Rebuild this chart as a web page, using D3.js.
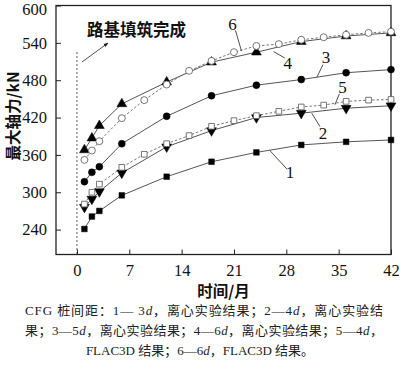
<!DOCTYPE html>
<html>
<head>
<meta charset="utf-8">
<script src="https://cdn.jsdelivr.net/npm/d3@7"></script>
<style>
  body { margin: 0; background: #fff; }
  svg { display: block; }
</style>
</head>
<body>
<svg id="chart" width="400" height="370"></svg>
<script>
// months at which the centrifuge tests were read
const testMonths = [1, 2, 3, 6, 12, 18, 24, 30, 36, 42];
// months at which the FLAC3D results were read
const simMonths = [1, 2, 3, 6, 9, 12, 15, 18, 21, 24, 27, 30, 33, 36, 39, 42];

// max axial force, kN
const s1 = [241, 261, 270, 295, 325, 349, 364, 376, 381, 384];
const s2 = [276, 289, 301, 331, 373, 399, 420, 427, 435, 439];
const s3 = [317, 332, 341, 378, 422, 455, 472, 481, 492, 497];
const s4 = [368, 387, 407, 442, 477, 509, 525, 542, 551, 556];
const s5 = [281, 300, 313, 340, 361, 378, 391, 406, 415, 423, 430, 437, 440, 446, 448, 449];
const s6 = [352, 367, 382, 419, 448, 473, 495, 511, 525, 535, 538, 545, 549, 553, 556, 558];

const xTicks = [0, 7, 14, 21, 28, 35, 42];
const yTicks = [240, 300, 360, 420, 480, 540, 600];

const series = [
  {id: 1, months: testMonths, values: s1, symbol: 'square', open: false},
  {id: 2, months: testMonths, values: s2, symbol: 'down', open: false},
  {id: 3, months: testMonths, values: s3, symbol: 'circle', open: false},
  {id: 4, months: testMonths, values: s4, symbol: 'up', open: false},
  {id: 5, months: simMonths, values: s5, symbol: 'square', open: true},
  {id: 6, months: simMonths, values: s6, symbol: 'circle', open: true}
];

const svg = d3.select('#chart');
const latin = '"Liberation Serif", "Times New Roman", serif';
const cjk = '"Noto Sans CJK SC", sans-serif';

const plot = {left: 56, right: 391, top: 5.5, bottom: 254.5};

const x = d3.scaleLinear().domain([-2.8, 42]).range([plot.left, plot.right]);
const y = d3.scaleLinear().domain([200, 600]).range([plot.bottom, plot.top]);

// axes with inward ticks
const xAxis = svg
  .append('g')
  .attr('transform', 'translate(0,' + plot.bottom + ')')
  .call(d3.axisBottom(x).tickValues(xTicks).tickSize(-5).tickPadding(10).tickSizeOuter(0));
const yAxis = svg
  .append('g')
  .attr('transform', 'translate(' + plot.left + ',0)')
  .call(d3.axisLeft(y).tickValues(yTicks).tickSize(-5).tickPadding(9).tickSizeOuter(0));

[xAxis, yAxis].forEach(ax => {
  ax.select('.domain').remove();
  ax.selectAll('line').attr('stroke', '#222').attr('stroke-width', 1);
  ax.selectAll('text')
    .attr('fill', '#111')
    .style('font-family', latin)
    .style('font-size', '16.5px');
});
// keep the top label inside the page
yAxis.selectAll('.tick text').filter(d => d === 600).attr('dy', '0.55em');

// frame
svg
  .append('rect')
  .attr('x', plot.left)
  .attr('y', plot.top)
  .attr('width', plot.right - plot.left)
  .attr('height', plot.bottom - plot.top)
  .attr('fill', 'none')
  .attr('stroke', '#222')
  .attr('stroke-width', 1.3);

// embankment completed marker
svg
  .append('line')
  .attr('x1', x(0))
  .attr('x2', x(0))
  .attr('y1', 52)
  .attr('y2', plot.bottom)
  .attr('stroke', '#333')
  .attr('stroke-width', 0.8)
  .attr('stroke-dasharray', '2,2');

svg
  .append('defs')
  .append('marker')
  .attr('id', 'arrow')
  .attr('viewBox', '0 0 10 10')
  .attr('refX', 9)
  .attr('refY', 5)
  .attr('markerWidth', 6)
  .attr('markerHeight', 6)
  .attr('orient', 'auto')
  .append('path')
  .attr('d', 'M0,1 L10,5 L0,9 Z')
  .attr('fill', '#222');

svg
  .append('line')
  .attr('x1', 82)
  .attr('y1', 62)
  .attr('x2', 108)
  .attr('y2', 43)
  .attr('stroke', '#222')
  .attr('stroke-width', 0.8)
  .attr('marker-end', 'url(#arrow)');

svg
  .append('text')
  .text('路基填筑完成')
  .attr('x', 87)
  .attr('y', 36)
  .style('font-family', cjk)
  .style('font-size', '16.5px')
  .style('font-weight', 700)
  .attr('fill', '#111');

// lines
const line = d3
  .line()
  .x(d => x(d[0]))
  .y(d => y(d[1]));

series.forEach(s => {
  const pts = s.months.map((m, i) => [m, s.values[i]]);
  svg
    .append('path')
    .datum(pts)
    .attr('d', line)
    .attr('fill', 'none')
    .attr('stroke', s.open ? '#777' : '#555')
    .attr('stroke-width', 1)
    .attr('stroke-dasharray', s.open ? '2.5,2' : null);
});

// markers
const symbolTypes = {
  square: d3.symbolSquare,
  circle: d3.symbolCircle,
  up: d3.symbolTriangle,
  down: d3.symbolTriangle
};
const symbolSizes = {square: 32, circle: 38, up: 42, down: 42};

series.forEach(s => {
  const pts = s.months.map((m, i) => [m, s.values[i]]);
  svg
    .append('g')
    .attr('class', 'marks_' + s.id)
    .selectAll('path')
    .data(pts)
    .enter()
    .append('path')
    .attr('d', d3.symbol().type(symbolTypes[s.symbol]).size(symbolSizes[s.symbol]))
    .attr('transform', d => 'translate(' + x(d[0]) + ',' + y(d[1]) + ')' + (s.symbol === 'down' ? ' rotate(180)' : ''))
    .attr('fill', s.open ? '#fff' : '#000')
    .attr('stroke', s.open ? '#666' : '#000')
    .attr('stroke-width', s.open ? 0.9 : 0.5);
});

// series labels with leader lines (data coordinates)
const labels = [
  {t: '6', tx: 20.8, ty: 569, a: [21.2, 560], b: [22.0, 527]},
  {t: '4', tx: 28.2, ty: 507, a: [26.3, 526], b: [27.8, 515.6]},
  {t: '3', tx: 33.3, ty: 516, a: [32.9, 505], b: [32.1, 485]},
  {t: '5', tx: 35.5, ty: 469, a: [35.1, 458], b: [34.5, 440.5]},
  {t: '2', tx: 32.9, ty: 395, a: [32.5, 405.6], b: [31.4, 427]},
  {t: '1', tx: 28.5, ty: 332, a: [28.1, 337], b: [25.8, 367]}
];

labels.forEach(l => {
  svg
    .append('line')
    .attr('x1', x(l.a[0]))
    .attr('y1', y(l.a[1]))
    .attr('x2', x(l.b[0]))
    .attr('y2', y(l.b[1]))
    .attr('stroke', '#222')
    .attr('stroke-width', 0.8);
  svg
    .append('text')
    .text(l.t)
    .attr('x', x(l.tx))
    .attr('y', y(l.ty))
    .attr('text-anchor', 'middle')
    .attr('dominant-baseline', 'central')
    .style('font-family', latin)
    .style('font-size', '17px')
    .attr('fill', '#111');
});

// axis titles
svg
  .append('text')
  .text('最大轴力/kN')
  .attr('transform', 'translate(19,' + 116 + ') rotate(-90)')
  .attr('text-anchor', 'middle')
  .style('font-family', cjk)
  .style('font-size', '15.5px')
  .style('font-weight', 700)
  .attr('fill', '#111');

svg
  .append('text')
  .text('时间/月')
  .attr('x', (plot.left + plot.right) / 2)
  .attr('y', 297)
  .attr('text-anchor', 'middle')
  .style('font-family', cjk)
  .style('font-size', '15.5px')
  .style('font-weight', 700)
  .attr('fill', '#111');

// caption
const caption = [
  ['CFG 桩间距：1— 3', 'd', '，离心实验结果；2—4', 'd', '，离心实验结'],
  ['果；3—5', 'd', '，离心实验结果；4—6', 'd', '，离心实验结果；5—4', 'd', '，'],
  ['FLAC3D 结果；6—6', 'd', '，FLAC3D 结果。']
];

caption.forEach((parts, row) => {
  const t = svg
    .append('text')
    .attr('x', row === 2 ? 200 : 25)
    .attr('y', 315 + row * 20)
    .attr('text-anchor', row === 2 ? 'middle' : 'start')
    .style('font-family', latin + ', ' + cjk)
    .style('font-size', '13px')
    .attr('fill', '#222');
  if (row < 2) t.attr('textLength', 358).attr('lengthAdjust', 'spacing');
  parts.forEach(p => {
    t.append('tspan')
      .text(p)
      .style('font-style', p === 'd' ? 'italic' : null);
  });
});
</script>
</body>
</html>
